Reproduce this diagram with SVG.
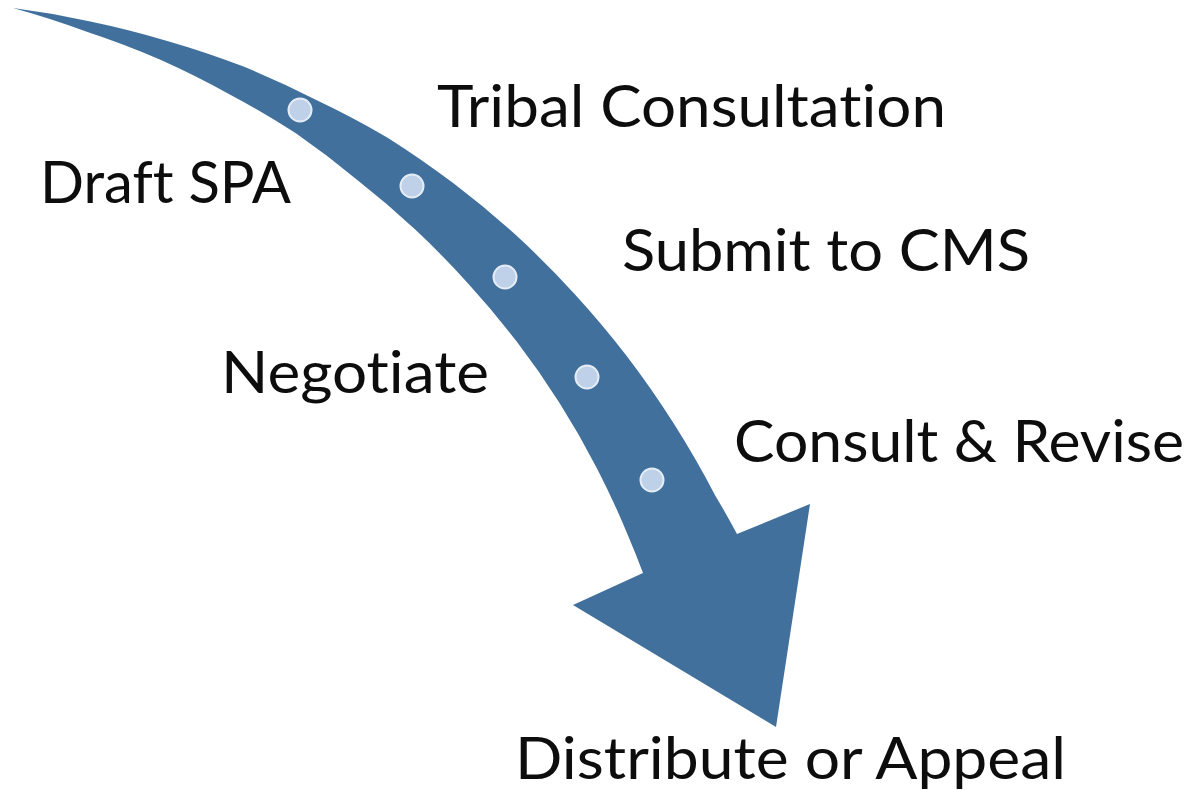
<svg xmlns="http://www.w3.org/2000/svg" width="1193" height="790" viewBox="0 0 1193 790">
<style>
.lbl{font-family:Lato,"Open Sans","Liberation Sans",sans-serif;font-size:59px;fill:#0d0d0d;font-variant-ligatures:none;font-feature-settings:"liga" 0}
.dot{fill:#bfd1e8;stroke:#e4ecf6;stroke-width:2}
.arrow{fill:#41709c}
</style>
<rect width="1193" height="790" fill="#ffffff"/>
<g id="connectors">
<path class="arrow" d="M13,8 A905,905 0 0 1 90.3,21.4 A910,910 0 0 1 167.2,40.9 A915,915 0 0 1 242.9,66.3 A919,919 0 0 1 315.75,99.7 A926,926 0 0 1 387.2,137.4 A930,930 0 0 1 453.8,183.6 A934,934 0 0 1 516.4,235.6 A937,937 0 0 1 574.1,293.4 A941,941 0 0 1 626.9,356.2 A944,944 0 0 1 673.9,423.7 A948,948 0 0 1 715.2,495.4 A950,950 0 0 1 737,534 L810,504 L776,727 L573,605 L643,573 A852,852 0 0 0 628.2,536 A855,855 0 0 0 596.9,468.2 A859,859 0 0 0 559.7,403.3 A862,862 0 0 0 516.7,341.6 A866,866 0 0 0 468.3,283.7 A870,870 0 0 0 415.2,229.6 A874,874 0 0 0 357.3,180 A880,880 0 0 0 296.25,133.5 A884,884 0 0 0 229.8,94.4 A890,890 0 0 0 160.4,59.7 A894,894 0 0 0 87.5,32 A898,898 0 0 0 13,8 Z"/>
</g>
<g id="dots">
<circle class="dot" cx="300" cy="110" r="11.5"/>
<circle class="dot" cx="412" cy="186" r="11.5"/>
<circle class="dot" cx="505" cy="277" r="11.5"/>
<circle class="dot" cx="587" cy="377" r="11.5"/>
<circle class="dot" cx="652" cy="480" r="11.5"/>
</g>
<g id="draft-spa"><text class="lbl" x="40" y="203" textLength="251" lengthAdjust="spacingAndGlyphs">Draft SPA</text></g>
<g id="tribal-consultation"><text class="lbl" x="437" y="127" textLength="509" lengthAdjust="spacingAndGlyphs">Tribal Consultation</text></g>
<g id="submit-to-cms"><text class="lbl" x="622" y="271" textLength="408" lengthAdjust="spacingAndGlyphs">Submit to CMS</text></g>
<g id="negotiate"><text class="lbl" x="221" y="393" textLength="268" lengthAdjust="spacingAndGlyphs">Negotiate</text></g>
<g id="consult-revise"><text class="lbl" x="734" y="462" textLength="450" lengthAdjust="spacingAndGlyphs">Consult &amp; Revise</text></g>
<g id="distribute-appeal"><text class="lbl" x="515" y="779" textLength="551" lengthAdjust="spacingAndGlyphs">Distribute or Appeal</text></g>
</svg>
